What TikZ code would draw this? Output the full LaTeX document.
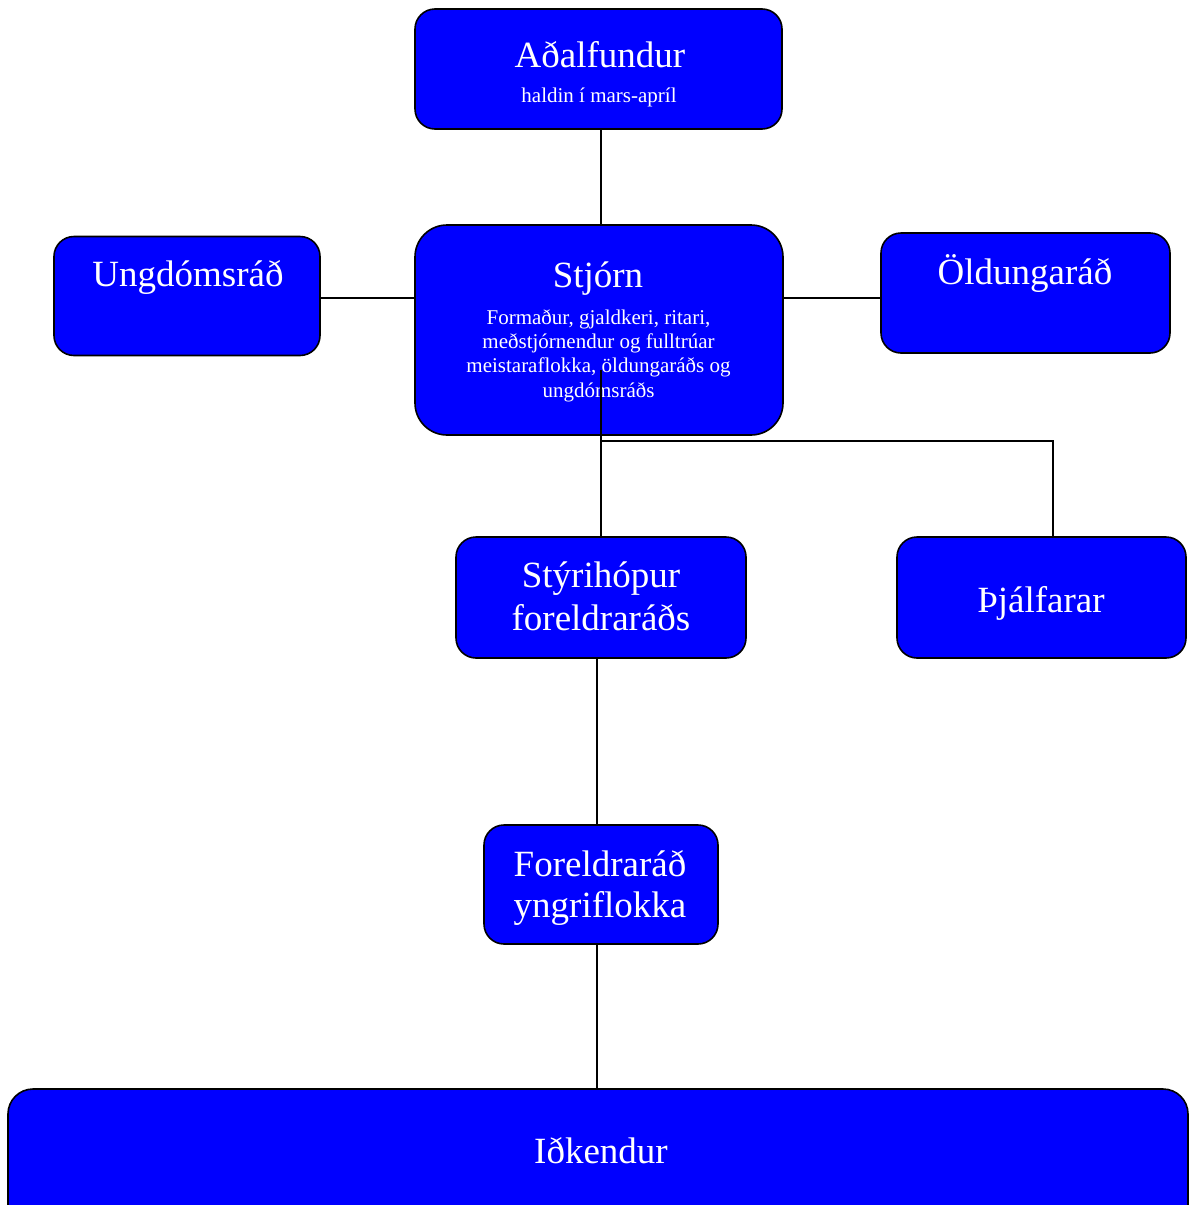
\documentclass[tikz,border=0pt]{standalone}
\usepackage{fontspec}
\setmainfont{Liberation Serif}
\definecolor{boxblue}{HTML}{0000FF}
\begin{document}
\begin{tikzpicture}[x=1pt,y=-1pt,
  box/.style={draw=black, line width=1.6pt, fill=boxblue, rounded corners=#1, inner sep=0pt},
  box/.default=20pt,
  big/.style={font=\fontsize{37}{42}\selectfont, text=white, inner sep=0pt, anchor=base},
  small/.style={font=\fontsize{21}{24.4}\selectfont, text=white, inner sep=0pt, anchor=base},
  conn/.style={draw=black, line width=1.4pt}]
\useasboundingbox (0,0) rectangle (1190,1205);
\clip (0,0) rectangle (1190,1205);
% boxes
\node[box, minimum width=367pt, minimum height=120pt] (ada) at (598.5,69) {};
\node[box=32pt, minimum width=368pt, minimum height=210pt] (stj) at (599,330) {};
\node[box, minimum width=266pt, minimum height=119pt] (ung) at (187,296) {};
\node[box, minimum width=289pt, minimum height=120pt] (old) at (1025.5,293) {};
\node[box, minimum width=290pt, minimum height=121pt] (sty) at (601,597.5) {};
\node[box, minimum width=289pt, minimum height=121pt] (thj) at (1041.5,597.5) {};
\node[box, minimum width=234pt, minimum height=119pt] (for) at (601,884.5) {};
\node[box=25pt, minimum width=1180pt, minimum height=160pt] (idk) at (598,1169) {};
% texts
\node[big] (adat) at (600,67) {Aðalfundur};
\node[small] (adas) at (599,102) {haldin í mars-apríl};
\node[big] (stjt) at (598,287) {Stjórn};
\node[small] (stjs1) at (598.5,324) {Formaður, gjaldkeri, ritari,};
\node[small] (stjs2) at (598.5,348) {meðstjórnendur og fulltrúar};
\node[small] (stjs3) at (598.5,372.5) {meistaraflokka, öldungaráðs og};
\node[small] (stjs4) at (598.5,397) {ungdómsráðs};
\node[big] (ungt) at (188,286) {Ungdómsráð};
\node[big] (oldt) at (1025,284) {Öldungaráð};
\node[big] (styt1) at (601,587) {Stýrihópur};
\node[big] (styt2) at (601,630) {foreldraráðs};
\node[big] (thjt) at (1041,612) {Þjálfarar};
\node[big] (fort1) at (600,876) {Foreldraráð};
\node[big] (fort2) at (600,917) {yngriflokka};
\node[big] (idkt) at (601,1163) {Iðkendur};
% connectors
\coordinate (s1) at (601,370);
\coordinate (j) at (601,441);
\draw[conn] (ada.south -| 601,0) -- (stj.north -| 601,0);
\draw[conn] (ung.east |- 0,298) -- (stj.west |- 0,298);
\draw[conn] (stj.east |- 0,298) -- (old.west |- 0,298);
\draw[conn] (s1) -- (sty.north -| s1);
\draw[conn] (j) -| (thj.north -| 1053,0);
\draw[conn] (sty.south -| 597,0) -- (for.north -| 597,0);
\draw[conn] (for.south -| 597,0) -- (idk.north -| 597,0);
\end{tikzpicture}
\end{document}
